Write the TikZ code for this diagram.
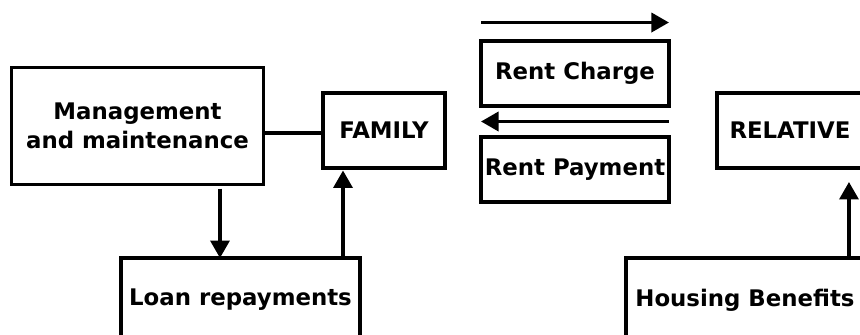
\documentclass[tikz,border=0pt]{standalone}
\usepackage{fontspec}
\setmainfont{DejaVu Sans}
\usetikzlibrary{arrows.meta,calc}

\begin{document}
\begin{tikzpicture}[x=0.02cm,y=-0.02cm,
		box/.style={draw,line width=2pt,inner sep=0pt,outer sep=0pt,align=center,
			font=\bfseries\fontsize{13}{16.6}\selectfont},
		arr/.style={line width=2pt,-{Triangle[length=0.35cm,width=0.38cm]}}]
			\useasboundingbox (0,0) rectangle (860,335);
			\clip (0,0) rectangle (860,335);
			% left half
			\node[box,minimum width=5.04cm,minimum height=2.35cm] (mm) at (137.5,126) {Management\\and maintenance};
			\node[box,minimum width=2.44cm,minimum height=1.5cm] (fam) at (384,130.5) {FAMILY};
			\node[box,minimum width=4.78cm,minimum height=1.68cm] (loan) at (240.5,300) {Loan repayments};
			\draw[line width=2pt] ([yshift=-0.05cm]fam.west -| mm.east) -- ([yshift=-0.05cm]fam.west);
			\draw[arr] ([xshift=1.65cm,yshift=-0.08cm]mm.south) -- ([xshift=1.65cm]mm.south |- loan.north);
			\draw[arr] ([xshift=-0.82cm]fam.south |- loan.north) -- ([xshift=-0.82cm,yshift=-0.05cm]fam.south);
			% rent in the middle
			\node[box,minimum width=3.76cm,minimum height=1.3cm] (rc) at (575,73.5) {Rent Charge};
			\node[box,minimum width=3.76cm,minimum height=1.3cm] (rp) at (575,169.5) {Rent Payment};
			\draw[arr] ([yshift=0.37cm]rc.north west) -- ([yshift=0.37cm]rc.north east);
			\draw[arr] ($(rc.south east)!0.5!(rp.north east)$) -- ($(rc.south west)!0.5!(rp.north west)$);
			% right half
			\node[box,minimum width=2.92cm,minimum height=1.5cm] (rel) at (790,130.5) {RELATIVE};
			\node[box,minimum width=4.76cm,minimum height=1.68cm] (hb) at (745,300) {Housing Benefits};
			\draw[arr] ([xshift=-0.3cm]hb.north east) -- ([xshift=-0.3cm,yshift=-0.28cm]hb.north east |- rel.south);
		\end{tikzpicture}
\end{document}
